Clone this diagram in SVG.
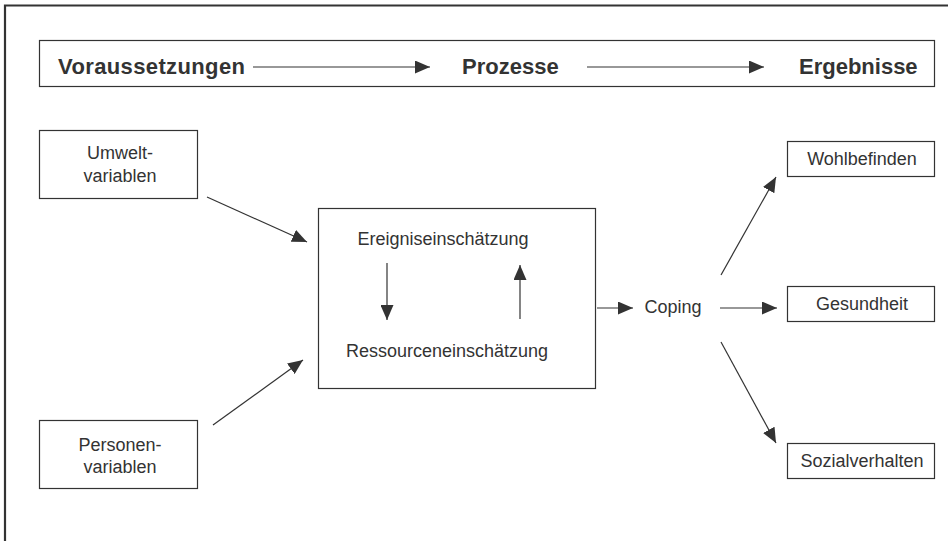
<svg xmlns="http://www.w3.org/2000/svg" width="948" height="541" viewBox="0 0 948 541">
  <style>
    .box { fill: #fff; stroke: #333; stroke-width: 1.2; }
    .line { fill: none; stroke: #333; stroke-width: 1.2; }
    .lbl { font-family: "Liberation Sans", Arial, sans-serif; font-size: 18px; fill: #333; text-anchor: middle; }
    .head { font-family: "Liberation Sans", Arial, sans-serif; font-size: 22px; font-weight: bold; fill: #333; }
  </style>
  <defs>
    <marker id="arr" viewBox="0 0 15 13" refX="15" refY="6.5" markerWidth="15" markerHeight="13" markerUnits="userSpaceOnUse" orient="auto">
      <path d="M0,0 L15,6.5 L0,13 Z" fill="#333"/>
    </marker>
  </defs>
  <rect width="948" height="541" fill="#fff"/>
  <!-- outer frame: top and left edges only -->
  <path d="M5,541 V5.5 H948" fill="none" stroke="#333" stroke-width="2.2"/>

  <!-- phase banner -->
  <g id="banner">
    <rect class="box" x="39.5" y="40.5" width="895" height="46"/>
    <text class="head" x="58" y="74" textLength="187">Voraussetzungen</text>
    <text class="head" x="462" y="74">Prozesse</text>
    <text class="head" x="799" y="74">Ergebnisse</text>
    <line class="line" x1="253" y1="67" x2="430" y2="67" marker-end="url(#arr)"/>
    <line class="line" x1="587" y1="67" x2="764" y2="67" marker-end="url(#arr)"/>
  </g>

  <g id="umwelt">
    <rect class="box" x="39.5" y="130.5" width="158" height="68"/>
    <text class="lbl" x="120" y="159">Umwelt-</text>
    <text class="lbl" x="120" y="182">variablen</text>
  </g>

  <g id="personen">
    <rect class="box" x="39.5" y="420.5" width="158" height="68"/>
    <text class="lbl" x="120" y="451">Personen-</text>
    <text class="lbl" x="120" y="473">variablen</text>
  </g>

  <g id="bewertung">
    <rect class="box" x="318.5" y="208.5" width="277" height="180"/>
    <text class="lbl" x="443" y="245">Ereigniseinschätzung</text>
    <text class="lbl" x="447" y="357">Ressourceneinschätzung</text>
  </g>

  <g id="coping">
    <text class="lbl" x="673" y="313">Coping</text>
  </g>

  <g id="wohlbefinden">
    <rect class="box" x="787.5" y="141.5" width="147" height="35"/>
    <text class="lbl" x="862" y="165">Wohlbefinden</text>
  </g>

  <g id="gesundheit">
    <rect class="box" x="787.5" y="286.5" width="147" height="35"/>
    <text class="lbl" x="862" y="310">Gesundheit</text>
  </g>

  <g id="sozialverhalten">
    <rect class="box" x="787.5" y="443.5" width="147" height="35"/>
    <text class="lbl" x="862" y="467">Sozialverhalten</text>
  </g>

  <g id="connectors">
    <line class="line" x1="207" y1="197" x2="307" y2="242" marker-end="url(#arr)"/>
    <line class="line" x1="213" y1="425" x2="303" y2="360" marker-end="url(#arr)"/>
    <line class="line" x1="387" y1="263" x2="387" y2="320" marker-end="url(#arr)"/>
    <line class="line" x1="520" y1="319" x2="520" y2="265" marker-end="url(#arr)"/>
    <line class="line" x1="597" y1="308" x2="633" y2="308" marker-end="url(#arr)"/>
    <line class="line" x1="720" y1="308" x2="777" y2="308" marker-end="url(#arr)"/>
    <line class="line" x1="721" y1="275" x2="776" y2="177" marker-end="url(#arr)"/>
    <line class="line" x1="721" y1="342" x2="776" y2="443" marker-end="url(#arr)"/>
  </g>
</svg>
